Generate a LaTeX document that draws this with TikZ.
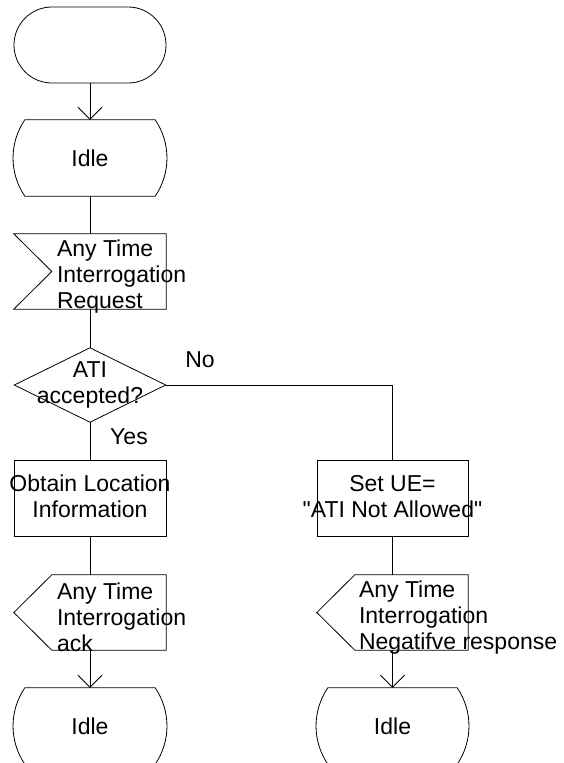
\documentclass[tikz,border=0pt]{standalone}
\usepackage{fontspec}
\setmainfont{Liberation Sans}
\usetikzlibrary{arrows.meta}
\newcommand{\sdlfont}{\fontsize{23}{26}\selectfont}
\tikzset{
  blk/.style={minimum width=152pt,minimum height=76pt,inner sep=0pt,align=center,font=\sdlfont},
  term/.style={blk,draw,line width=0.8pt,rounded corners=37.9pt},
  task/.style={blk,draw,line width=0.8pt},
  sdlstate/.style={blk},
  sig/.style={blk,minimum height=75pt},
  decis/.style={blk,minimum width=151pt,minimum height=74pt},
  sigtxt/.style={anchor=west,inner sep=0pt,align=left,font=\sdlfont},
  lbl/.style={inner sep=0pt,align=center,font=\sdlfont},
  outl/.style={line width=0.8pt},
  flow/.style={line width=0.8pt},
  flowarr/.style={flow,-{Straight Barb[length=12pt,width=24pt]}},
}

\begin{document}
\begin{tikzpicture}[x=1pt,y=-1pt]
  \useasboundingbox (0,0) rectangle (563,763);
  \clip (0,0) rectangle (563,763);
  % left branch
  \node[term] (start) at (90,45) {};
  \node[sdlstate] (idleA) at (90,158) {Idle};
  \node[sig] (req) at (90,271.5) {};
  \node[sigtxt] (reqtxt) at ([xshift=43pt,yshift=-5pt]req.west) {Any Time\\Interrogation\\Request};
  \node[decis] (atiq) at (90,385) {ATI\\accepted?};
  \node[task] (obt) at (90,498.5) {};
  \node[lbl] (obttxt) at ([yshift=2pt]obt) {Obtain Location\\Information};
  \node[sig] (ack) at (90,612.5) {};
  \node[sigtxt] (acktxt) at ([xshift=43pt,yshift=-5pt]ack.west) {Any Time\\Interrogation\\ack};
  \node[sdlstate] (idleB) at (90,726) {Idle};
  % right branch
  \node[task,minimum width=151pt] (setue) at (392.5,498.5) {};
  \node[lbl] (setuetxt) at ([yshift=2pt]setue) {Set UE=\\\textquotedbl ATI Not Allowed\textquotedbl};
  \node[sig,minimum width=151pt] (neg) at (392.5,612.5) {};
  \node[sigtxt] (negtxt) at ([xshift=42pt,yshift=-5pt]neg.west) {Any Time\\Interrogation\\Negatifve response};
  \node[sdlstate,minimum width=151pt] (idleC) at (392.5,726) {Idle};
  \node[lbl] (no) at (200,360) {No};
  \node[lbl] (yes) at (129,437) {Yes};

  % outlines
  \foreach \s in {idleA,idleB,idleC}
    \draw[outl] ([xshift=11pt]\s.north west) -- ([xshift=-11pt]\s.north east)
      .. controls ([xshift=4.7pt,yshift=-23.2pt]\s.north east) and ([xshift=4.7pt,yshift=23.2pt]\s.south east) .. ([xshift=-11pt]\s.south east)
      -- ([xshift=11pt]\s.south west)
      .. controls ([xshift=-4.7pt,yshift=23.2pt]\s.south west) and ([xshift=-4.7pt,yshift=-23.2pt]\s.north west) .. cycle;
  \draw[outl] (req.north west) -- (req.north east) -- (req.south east) -- (req.south west) -- ([xshift=38pt]req.west) -- cycle;
  \foreach \o in {ack,neg}
    \draw[outl] ([xshift=38pt]\o.north west) -- (\o.north east) -- (\o.south east) -- ([xshift=38pt]\o.south west) -- (\o.west) -- cycle;
  \draw[outl] (atiq.north) -- (atiq.east) -- (atiq.south) -- (atiq.west) -- cycle;

  % connectors
  \draw[flowarr] (start) -- (idleA);
  \draw[flow] (idleA) -- (req);
  \draw[flow] (req) -- (atiq);
  \draw[flow] (atiq) -- (obt);
  \draw[flow] (obt) -- (ack);
  \draw[flowarr] (ack) -- (idleB);
  \draw[flow] (atiq.east) -| (setue.north);
  \draw[flow] (setue) -- (neg);
  \draw[flowarr] (neg) -- (idleC);
\end{tikzpicture}
\end{document}
